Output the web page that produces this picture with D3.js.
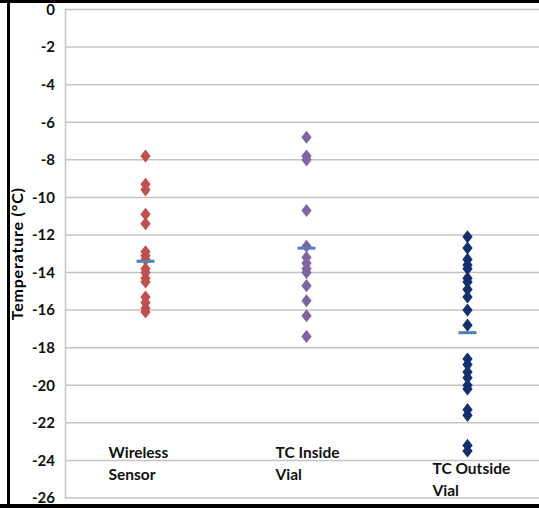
<!DOCTYPE html>
<html>
<head>
<meta charset="utf-8">
<script src="https://cdn.jsdelivr.net/npm/d3@7"></script>
<style>
  body { margin: 0; background: #fff; }
  svg { display: block; }
  .tick text { font-family: Lato, "Open Sans", sans-serif; font-weight: bold; font-size: 15px; fill: #111; }
</style>
</head>
<body>
<div id="chart"></div>
<script>
// categories and readings (°C)
const categories = [["Wireless", "Sensor"], ["TC Inside", "Vial"], ["TC Outside", "Vial"]];
const wirelessSensor = [-7.8, -9.3, -9.6, -10.9, -11.4, -12.9, -13.1, -13.3, -13.8, -14.0, -14.3, -14.5, -15.3, -15.6, -15.9, -16.1];
const tcInsideVial = [-6.8, -7.8, -8.0, -10.7, -12.6, -13.2, -13.5, -13.8, -14.0, -14.7, -15.5, -16.3, -17.4];
const tcOutsideVial = [-12.1, -12.7, -13.3, -13.6, -13.8, -14.3, -14.5, -14.9, -15.3, -16.0, -16.8, -18.6, -18.9, -19.3, -19.6, -20.0, -20.2, -21.3, -21.6, -23.2, -23.5];
const meanValues = [-13.4, -12.7, -17.2];
const yTicks = [0, -2, -4, -6, -8, -10, -12, -14, -16, -18, -20, -22, -24, -26];
const seriesColors = ["#c0504d", "#8064a2", "#13306e"];

const width = 539, height = 508;
const plotLeft = 65, plotTop = 9.5, plotBottom = 498;

const svg = d3.select("#chart").append("svg")
    .attr("width", width)
    .attr("height", height);

const x = d3.scaleLinear().domain([0.5, 3.5]).range([plotLeft, 548]);
const y = d3.scaleLinear().domain([0, -26]).range([plotTop, plotBottom]);

// gridlines
svg.append("g")
    .selectAll("line")
    .data(yTicks)
    .enter()
    .append("line")
    .attr("x1", plotLeft)
    .attr("x2", width)
    .attr("y1", d => y(d))
    .attr("y2", d => y(d))
    .attr("stroke", "#c4c4c4")
    .attr("stroke-width", 1.5);

// y axis (plain hyphen minus like the original)
const yAxis = svg.append("g")
    .attr("transform", `translate(${plotLeft},0)`)
    .call(d3.axisLeft(y).tickValues(yTicks).tickSize(0).tickPadding(10).tickFormat(d => String(d)));
yAxis.select(".domain").attr("stroke", "#c4c4c4").attr("stroke-width", 1.5);

svg.append("text")
    .attr("transform", `translate(23,${(plotTop + plotBottom) / 2}) rotate(-90)`)
    .attr("text-anchor", "middle")
    .style("font-family", "Lato, 'Open Sans', sans-serif")
    .style("font-weight", "bold")
    .style("font-size", "16px")
    .style("letter-spacing", "0.8px")
    .text("Temperature (°C)");

// points
const series = [wirelessSensor, tcInsideVial, tcOutsideVial];
const diamond = d3.symbol().type(d3.symbolDiamond).size(50);

series.forEach((vals, i) => {
    svg.append("g")
        .selectAll("path")
        .data(vals)
        .enter()
        .append("path")
        .attr("d", diamond)
        .attr("transform", d => `translate(${x(i + 1)},${y(d)}) scale(1.35,1)`)
        .attr("fill", seriesColors[i]);
});

// mean markers
svg.append("g")
    .selectAll("rect")
    .data(meanValues)
    .enter()
    .append("rect")
    .attr("x", (d, i) => x(i + 1) - 9)
    .attr("y", d => y(d) - 1.5)
    .attr("width", 18)
    .attr("height", 3)
    .attr("fill", "#4f81bd");

// category labels (text boxes under each column)
const labelTop = [458, 458, 474];
const labelShift = [-37, -31, -35];
const labels = svg.append("g")
    .selectAll("text")
    .data(categories)
    .enter()
    .append("text")
    .attr("x", (d, i) => x(i + 1) + labelShift[i])
    .attr("y", (d, i) => labelTop[i])
    .style("font-family", "Lato, 'Open Sans', sans-serif")
    .style("font-weight", "bold")
    .style("font-size", "15.5px")
    .style("fill", "#111");
labels.selectAll("tspan")
    .data(d => d)
    .enter()
    .append("tspan")
    .attr("x", function () { return d3.select(this.parentNode).attr("x"); })
    .attr("dy", (d, j) => j === 0 ? 0 : 22)
    .text(d => d);

// black frame (top, left, bottom)
svg.append("rect").attr("x", 0).attr("y", 0).attr("width", width).attr("height", 3).attr("fill", "#000");
svg.append("rect").attr("x", 7).attr("y", 0).attr("width", 3).attr("height", height).attr("fill", "#000");
svg.append("rect").attr("x", 0).attr("y", 504).attr("width", width).attr("height", 4).attr("fill", "#000");
</script>
</body>
</html>
